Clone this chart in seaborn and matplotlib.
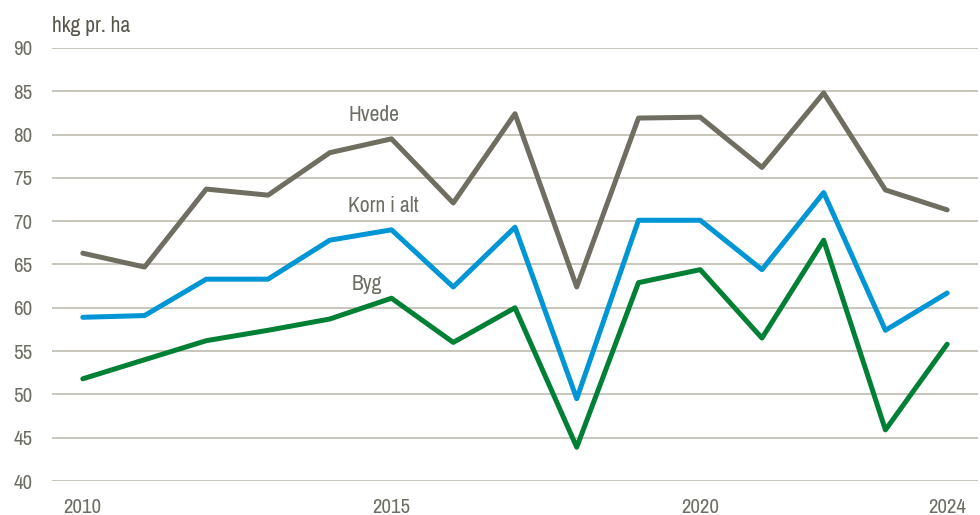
import matplotlib
matplotlib.use("Agg")
import matplotlib.pyplot as plt
from matplotlib import font_manager
import seaborn as sns
import pandas as pd

years = list(range(2010, 2025))
hvede = [66.3, 64.7, 73.7, 73.0, 77.9, 79.5, 72.1, 82.4, 62.4, 81.9, 82.0, 76.2, 84.8, 73.6, 71.3]
korn = [58.9, 59.1, 63.3, 63.3, 67.8, 69.0, 62.4, 69.3, 49.5, 70.1, 70.1, 64.4, 73.3, 57.4, 61.7]
byg = [51.8, 54.0, 56.2, 57.4, 58.7, 61.1, 56.0, 60.0, 43.9, 62.9, 64.4, 56.5, 67.8, 45.9, 55.8]
series_names = ["Hvede", "Korn i alt", "Byg"]
y_ticks = [40, 45, 50, 55, 60, 65, 70, 75, 80, 85, 90]
x_ticks = [2010, 2015, 2020, 2024]
unit_label = "hkg pr. ha"

colors = {"Hvede": "#6f6e60", "Korn i alt": "#0095d5", "Byg": "#008035"}
text_color = "#6f6e64"

df = pd.DataFrame({
    "year": years * 3,
    "value": hvede + korn + byg,
    "series": [series_names[0]] * len(years) + [series_names[1]] * len(years) + [series_names[2]] * len(years),
})

sns.set_theme(style="white")

# pick a narrow/condensed sans font if one is installed
font_path = None
cands = []
for f in font_manager.fontManager.ttflist:
    nm = f.name.lower()
    fn = f.fname.lower()
    if f.style != "normal" or f.weight not in (400, "normal", "regular"):
        continue
    if "bold" in fn or "italic" in fn or "oblique" in fn or "light" in fn or "mono" in fn or "serif" in nm and "sans" not in nm:
        continue
    score = None
    if "narrow" in nm or "narrow" in fn:
        score = 0
    elif "condensed" in fn or "condensed" in nm or f.stretch in ("condensed", "semi-condensed"):
        score = 1
    if score is not None and "cjk" not in nm:
        cands.append((score, f.fname))
cands.sort()
if cands:
    font_path = cands[0][1]
if font_path:
    font_manager.fontManager.addfont(font_path)
    fp = font_manager.FontProperties(fname=font_path)
    plt.rcParams["font.family"] = [fp.get_name(), "DejaVu Sans"]
    try:
        plt.rcParams["font.stretch"] = fp.get_stretch()
    except Exception:
        pass
    narrow = True
else:
    plt.rcParams["font.family"] = ["Liberation Sans", "DejaVu Sans"]
    narrow = False

tick_fs = 15 if narrow else 13
lab_fs = 15.5 if narrow else 13.5

fig = plt.figure(figsize=(9.8, 5.15), dpi=100)
ax = fig.add_axes([0.053, 0.066, 0.945, 0.841])

sns.lineplot(data=df, x="year", y="value", hue="series", palette=colors,
             linewidth=3.6, ax=ax, legend=False, sort=True)

ax.set_xlim(2009.5, 2024.5)
ax.set_ylim(40, 90)
ax.set_yticks(y_ticks)
ax.set_xticks(x_ticks)
ax.set_yticklabels([str(v) for v in y_ticks])
ax.set_xticklabels([str(v) for v in x_ticks])
ax.yaxis.grid(True, color="#bfbcae", linewidth=1.2)
ax.set_axisbelow(True)
for s in ax.spines.values():
    s.set_visible(False)
ax.tick_params(axis="both", length=0, labelsize=tick_fs, colors=text_color)
ax.tick_params(axis="y", pad=14)
ax.tick_params(axis="x", pad=12)
ax.set_xlabel("")
ax.set_ylabel("")

fig.text(0.053, 1 - 32 / 515, unit_label, fontsize=15.5, color="#56564c",
         ha="left", va="baseline")

ax.text(2014.3, 81.6, series_names[0], fontsize=lab_fs, color=text_color, ha="left", va="baseline")
ax.text(2014.3, 71.1, series_names[1], fontsize=lab_fs, color=text_color, ha="left", va="baseline")
ax.text(2014.35, 62.0, series_names[2], fontsize=lab_fs, color=text_color, ha="left", va="baseline")

fig.savefig("out.png", dpi=100)
